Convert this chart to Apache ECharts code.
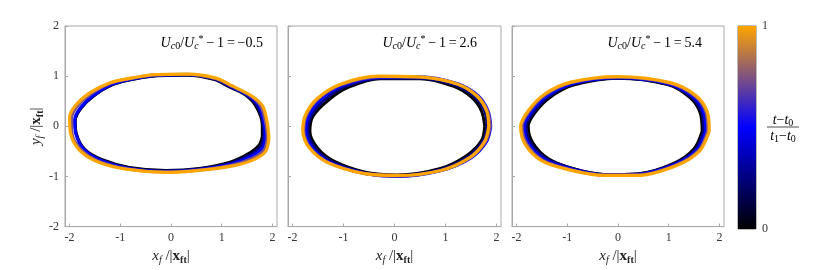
<!DOCTYPE html>
<meta charset="utf-8">
<style>
  html, body { margin: 0; background: #fff; }
  #main { width: 830px; height: 270px; }
</style>
<div id="main"></div>
<script src="https://cdn.jsdelivr.net/npm/echarts@6/dist/echarts.min.js"></script>
<script>
// normalised time of each snapshot (same for every panel)
var times = [0, 0.25, 0.5, 0.75, 1];

// colormap of the colour bar: black -> blue -> orange
var cmap = ['#000000', '#0000ff', '#ffa500'];

var xTicks = [-2, -1, 0, 1, 2];
var panelLabels = ['\u22120.5', '2.6', '5.4'];

// front shapes (x_f, y_f), one list per snapshot
var frontsA = [
  [[1.80,-0.20],[1.80,0.02],[1.67,0.41],[1.45,0.64],[1.14,0.79],[0.86,0.93],[0.33,1.02],[-0.30,1.01],[-0.85,0.92],[-1.16,0.83],[-1.51,0.62],[-1.77,0.37],[-1.89,0.12],[-1.87,-0.14],[-1.70,-0.46],[-1.37,-0.66],[-0.82,-0.82],[-0.10,-0.88],[0.56,-0.84],[1.18,-0.71],[1.52,-0.55],[1.74,-0.37]],
  [[1.83,-0.21],[1.82,0.03],[1.70,0.41],[1.48,0.63],[1.16,0.79],[0.86,0.94],[0.33,1.03],[-0.30,1.01],[-0.85,0.92],[-1.16,0.83],[-1.51,0.62],[-1.77,0.37],[-1.89,0.12],[-1.87,-0.14],[-1.71,-0.46],[-1.38,-0.67],[-0.83,-0.83],[-0.10,-0.89],[0.56,-0.85],[1.19,-0.73],[1.54,-0.58],[1.77,-0.40]],
  [[1.86,-0.22],[1.84,0.04],[1.74,0.40],[1.52,0.62],[1.18,0.80],[0.87,0.95],[0.33,1.03],[-0.30,1.02],[-0.85,0.93],[-1.17,0.84],[-1.52,0.63],[-1.78,0.38],[-1.90,0.13],[-1.88,-0.14],[-1.72,-0.46],[-1.39,-0.68],[-0.84,-0.84],[-0.10,-0.90],[0.56,-0.86],[1.20,-0.75],[1.56,-0.61],[1.80,-0.44]],
  [[1.90,-0.23],[1.87,0.05],[1.77,0.40],[1.56,0.61],[1.20,0.80],[0.88,0.95],[0.33,1.04],[-0.30,1.03],[-0.85,0.94],[-1.19,0.86],[-1.56,0.66],[-1.84,0.41],[-1.96,0.16],[-1.95,-0.14],[-1.77,-0.47],[-1.42,-0.70],[-0.85,-0.85],[-0.10,-0.91],[0.56,-0.87],[1.21,-0.77],[1.58,-0.65],[1.83,-0.48]],
  [[1.93,-0.25],[1.90,0.06],[1.81,0.40],[1.60,0.60],[1.22,0.80],[0.89,0.96],[0.33,1.04],[-0.30,1.03],[-0.85,0.95],[-1.20,0.87],[-1.58,0.68],[-1.87,0.43],[-2.00,0.18],[-1.98,-0.14],[-1.80,-0.48],[-1.44,-0.71],[-0.85,-0.86],[-0.10,-0.92],[0.56,-0.88],[1.22,-0.79],[1.60,-0.68],[1.86,-0.51]]
];
var frontsB = [
  [[1.77,0.0],[1.71,0.30],[1.51,0.58],[1.15,0.80],[0.50,0.95],[-0.28,0.95],[-0.90,0.78],[-1.30,0.52],[-1.60,0.20],[-1.66,-0.10],[-1.52,-0.42],[-1.18,-0.70],[-0.55,-0.92],[0.05,-0.97],[0.90,-0.84],[1.42,-0.58],[1.71,-0.28]],
  [[1.82,0.0],[1.77,0.30],[1.57,0.59],[1.19,0.82],[0.50,0.96],[-0.28,0.96],[-0.95,0.80],[-1.37,0.53],[-1.64,0.20],[-1.70,-0.10],[-1.57,-0.42],[-1.22,-0.71],[-0.56,-0.93],[0.05,-0.98],[0.90,-0.86],[1.45,-0.60],[1.74,-0.29]],
  [[1.89,0.0],[1.84,0.30],[1.64,0.61],[1.24,0.85],[0.50,0.99],[-0.28,0.98],[-1.00,0.82],[-1.43,0.55],[-1.68,0.21],[-1.74,-0.10],[-1.62,-0.42],[-1.27,-0.72],[-0.58,-0.94],[0.05,-1.00],[0.92,-0.88],[1.50,-0.63],[1.81,-0.30]],
  [[1.88,0.0],[1.83,0.30],[1.63,0.60],[1.24,0.84],[0.51,0.98],[-0.28,0.99],[-1.04,0.83],[-1.48,0.56],[-1.73,0.22],[-1.78,-0.10],[-1.66,-0.42],[-1.30,-0.72],[-0.60,-0.94],[0.05,-0.99],[0.91,-0.88],[1.49,-0.62],[1.79,-0.30]],
  [[1.85,0.0],[1.81,0.30],[1.62,0.60],[1.24,0.84],[0.56,0.98],[-0.32,1.00],[-1.06,0.84],[-1.51,0.56],[-1.75,0.22],[-1.80,-0.10],[-1.68,-0.42],[-1.32,-0.72],[-0.61,-0.94],[0.05,-0.98],[0.91,-0.88],[1.48,-0.62],[1.77,-0.30]]
];
var frontsC = [
  [[1.66,-0.10],[1.62,0.27],[1.42,0.57],[0.98,0.83],[0.0,0.96],[-0.88,0.82],[-1.35,0.57],[-1.64,0.27],[-1.77,0.0],[-1.68,-0.33],[-1.38,-0.64],[-0.86,-0.85],[-0.28,-0.96],[0.38,-0.95],[1.10,-0.74],[1.50,-0.45]],
  [[1.69,-0.10],[1.65,0.28],[1.45,0.58],[0.99,0.84],[0.0,0.96],[-0.89,0.84],[-1.37,0.59],[-1.67,0.28],[-1.81,0.0],[-1.72,-0.34],[-1.41,-0.65],[-0.87,-0.85],[-0.28,-0.96],[0.38,-0.95],[1.11,-0.75],[1.53,-0.46]],
  [[1.73,-0.10],[1.69,0.28],[1.48,0.59],[1.00,0.85],[0.0,0.97],[-0.90,0.85],[-1.40,0.61],[-1.71,0.29],[-1.85,0.0],[-1.76,-0.35],[-1.44,-0.67],[-0.89,-0.86],[-0.28,-0.97],[0.38,-0.96],[1.13,-0.76],[1.56,-0.47]],
  [[1.77,-0.10],[1.73,0.29],[1.52,0.60],[1.02,0.86],[0.0,0.98],[-0.92,0.87],[-1.43,0.63],[-1.75,0.30],[-1.89,0.0],[-1.80,-0.35],[-1.48,-0.68],[-0.91,-0.87],[-0.28,-0.97],[0.38,-0.97],[1.15,-0.77],[1.59,-0.48]],
  [[1.80,-0.10],[1.76,0.29],[1.54,0.61],[1.03,0.87],[0.0,0.99],[-0.93,0.88],[-1.45,0.64],[-1.77,0.31],[-1.92,0.0],[-1.83,-0.36],[-1.50,-0.69],[-0.92,-0.88],[-0.28,-0.98],[0.38,-0.98],[1.16,-0.78],[1.61,-0.49]]
];

var panels = [frontsA, frontsB, frontsC];

var SERIF = 'Liberation Serif';
var AXIS_GRAY = '#a8a8a8';
var LABEL_COLOR = '#333';

var mathRich = {
  i: { fontFamily: SERIF, fontStyle: 'italic', fontSize: 15, color: '#222', lineHeight: 18 },
  n: { fontFamily: SERIF, fontSize: 15, color: '#222', lineHeight: 18 },
  b: { fontFamily: SERIF, fontWeight: 'bold', fontSize: 15, color: '#222', lineHeight: 18 },
  sub: { fontFamily: SERIF, fontStyle: 'italic', fontSize: 10, color: '#222', lineHeight: 10, verticalAlign: 'bottom' },
  bsub: { fontFamily: SERIF, fontWeight: 'bold', fontSize: 10, color: '#222', lineHeight: 10, verticalAlign: 'bottom' }
};

var chart = echarts.init(document.getElementById('main'), null, { renderer: 'canvas' });

var gridPos = [
  { left: 65, top: 26, width: 212, height: 203 },
  { left: 288, top: 26, width: 213, height: 203 },
  { left: 512, top: 26, width: 212, height: 203 }
];

var grids = [], xAxes = [], yAxes = [], series = [];

gridPos.forEach(function (g, p) {
  grids.push({
    left: g.left, top: g.top, width: g.width, height: g.height,
    show: true, borderColor: AXIS_GRAY, borderWidth: 1, backgroundColor: '#fff'
  });
  xAxes.push({
    gridIndex: p, type: 'value', min: -2.09, max: 2.09,
    name: '{i|x}{sub|f}{n| /|}{b|x}{bsub|ft}{n||}',
    nameLocation: 'middle', nameGap: 19,
    nameTextStyle: { rich: mathRich },
    axisLine: { show: true, onZero: false, lineStyle: { color: AXIS_GRAY } },
    axisTick: { show: true, inside: true, length: 3, customValues: xTicks, lineStyle: { color: AXIS_GRAY } },
    axisLabel: { customValues: xTicks, margin: 5, fontFamily: SERIF, fontSize: 12, color: LABEL_COLOR },
    splitLine: { show: false }
  });
  yAxes.push({
    gridIndex: p, type: 'value', min: -2, max: 2, interval: 1,
    name: p === 0 ? '{i|y}{sub|f}{n| /|}{b|x}{bsub|ft}{n||}' : '',
    nameLocation: 'middle', nameGap: 17, nameRotate: 90,
    nameTextStyle: { rich: mathRich },
    axisLine: { show: true, onZero: false, lineStyle: { color: AXIS_GRAY } },
    axisTick: { show: true, inside: true, length: 3, lineStyle: { color: AXIS_GRAY } },
    axisLabel: { show: p === 0, margin: 6, fontFamily: SERIF, fontSize: 12, color: LABEL_COLOR },
    splitLine: { show: false }
  });

  panels[p].forEach(function (front, k) {
    var t = times[k];
    series.push({
      type: 'line',
      xAxisIndex: p, yAxisIndex: p,
      data: front.concat([front[0]]),
      smooth: 0.3,
      showSymbol: false,
      silent: true,
      z: 2 + k,
      lineStyle: { color: echarts.color.lerp(t, cmap), width: t === 1 ? 3.2 : 3 }
    });
  });
});

// colour bar
grids.push({ left: 738, top: 26, width: 18, height: 203, show: true, borderColor: '#777', borderWidth: 1 });
xAxes.push({ gridIndex: 3, type: 'category', data: ['cb'], show: false });
yAxes.push({
  gridIndex: 3, type: 'value', min: 0, max: 1, interval: 1, position: 'right',
  axisLine: { show: false }, axisTick: { show: false }, splitLine: { show: false },
  axisLabel: { margin: 6, fontFamily: SERIF, fontSize: 12, color: LABEL_COLOR }
});
series.push({
  type: 'bar', xAxisIndex: 3, yAxisIndex: 3, data: [1], barWidth: '100%', silent: true,
  itemStyle: {
    color: new echarts.graphic.LinearGradient(0, 1, 0, 0, cmap.map(function (c, i) {
      return { offset: i / (cmap.length - 1), color: c };
    }))
  }
});

var annRich = {
  i: { fontFamily: SERIF, fontStyle: 'italic', fontSize: 14, color: '#222', lineHeight: 17 },
  n: { fontFamily: SERIF, fontSize: 14, color: '#222', lineHeight: 17 },
  sub: { fontFamily: SERIF, fontStyle: 'italic', fontSize: 10, color: '#222', lineHeight: 10, verticalAlign: 'bottom' },
  nsub: { fontFamily: SERIF, fontSize: 10, color: '#222', lineHeight: 10, verticalAlign: 'bottom' },
  sup: { fontFamily: SERIF, fontSize: 10, color: '#222', lineHeight: 10, verticalAlign: 'top' }
};

var graphics = [];
var annRight = [263, 477, 702];
panelLabels.forEach(function (v, p) {
  graphics.push({
    type: 'text', x: annRight[p], y: 43,
    style: {
      text: '{i|U}{sub|c}{nsub|0}{n|/}{i|U}{sub|c}{sup|*}{n|\u2009\u2212\u20091\u2009=\u2009' + v + '}',
      rich: annRich, align: 'right', verticalAlign: 'middle'
    }
  });
});

// colour bar label (t - t0)/(t1 - t0)
graphics.push({
  type: 'text', x: 783, y: 120,
  style: { text: '{i|t}{n|\u2212}{i|t}{nsub|0}', rich: annRich, align: 'center', verticalAlign: 'middle' }
});
graphics.push({
  type: 'line', shape: { x1: 767, y1: 127, x2: 799, y2: 127 },
  style: { stroke: '#222', lineWidth: 0.8 }
});
graphics.push({
  type: 'text', x: 783, y: 136,
  style: { text: '{i|t}{nsub|1}{n|\u2212}{i|t}{nsub|0}', rich: annRich, align: 'center', verticalAlign: 'middle' }
});

chart.setOption({
  animation: false,
  backgroundColor: '#fff',
  grid: grids,
  xAxis: xAxes,
  yAxis: yAxes,
  series: series,
  graphic: graphics
});
</script>
